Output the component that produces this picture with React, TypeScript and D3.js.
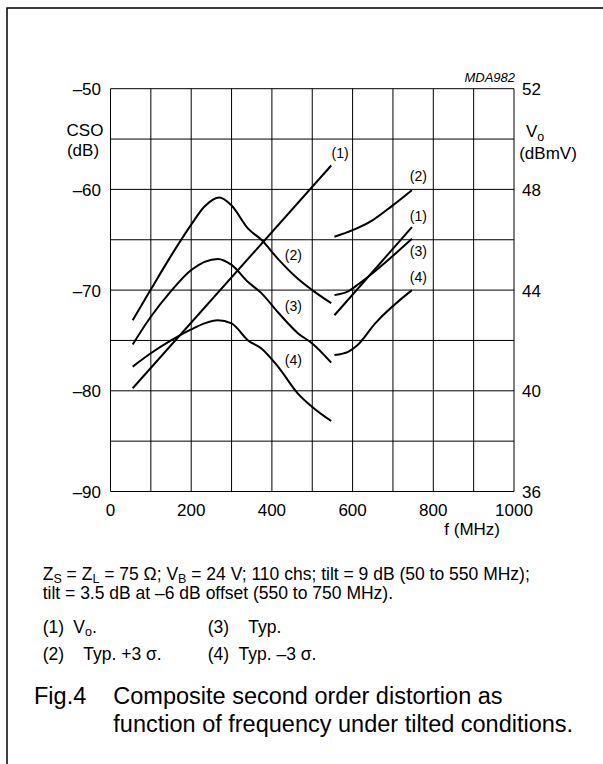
import React from "react";
import * as d3 from "d3";

// frequency axis (MHz) and the two y axes
const freqTicks = [0, 200, 400, 600, 800, 1000];
const csoTicks = [-50, -60, -70, -80, -90];
const voTicks = [52, 48, 44, 40, 36];

// (1) Vo, dBmV (right axis), two tilt segments
const voLow = [[55, 40.1], [547, 48.95]];
const voHigh = [[555, 43.0], [747, 46.5]];

// (2) Typ. +3 sigma, CSO dB
const typPlusLow = [
  [55, -73.0], [99, -70.0], [150, -66.6], [200, -63.5], [233, -61.7], [270, -60.8],
  [300, -61.6], [341, -63.9], [374, -65.0], [415, -66.9], [465, -68.9], [500, -70.0], [547, -71.3],
];
const typPlusHigh = [[555, -64.7], [600, -64.05], [648, -63.1], [697, -61.66], [747, -60.07]];

// (3) Typ.
const typLow = [
  [55, -75.4], [99, -72.7], [150, -70.1], [200, -68.0], [266, -66.9],
  [300, -67.5], [341, -69.2], [374, -70.3], [415, -72.2], [465, -74.3], [500, -75.3], [547, -77.2],
];
const typHigh = [[555, -70.5], [590, -70.1], [615, -69.4], [747, -64.9]];

// (4) Typ. -3 sigma
const typMinusLow = [
  [55, -77.6], [99, -76.3], [150, -75.0], [200, -73.9], [233, -73.3], [266, -73.0],
  [300, -73.3], [341, -75.0], [374, -75.8], [415, -77.6], [465, -80.3], [500, -81.6], [547, -83.0],
];
const typMinusHigh = [[555, -76.45], [590, -76.1], [611, -75.5], [656, -73.3], [747, -70.0]];

// curve tags, placed in chart units (MHz, dB)
const tags = [
  { t: "(1)", f: 569, v: -56.4 },
  { t: "(2)", f: 453, v: -66.5 },
  { t: "(3)", f: 453, v: -71.6 },
  { t: "(4)", f: 453, v: -76.9 },
  { t: "(2)", f: 763, v: -58.7 },
  { t: "(1)", f: 763, v: -62.6 },
  { t: "(3)", f: 763, v: -66.1 },
  { t: "(4)", f: 763, v: -68.7 },
];

const W = 603, H = 764;
const plot = { left: 110.5, right: 514, top: 88.7, bottom: 491.5 };
const font = "'Liberation Sans', Arial, sans-serif";

export default function App() {
  const x = d3.scaleLinear().domain([0, 1000]).range([plot.left, plot.right]);
  const y = d3.scaleLinear().domain([-90, -50]).range([plot.bottom, plot.top]);
  const yR = d3.scaleLinear().domain([36, 52]).range([plot.bottom, plot.top]);

  const lineL = d3.line<number[]>().x(d => x(d[0])).y(d => y(d[1])).curve(d3.curveMonotoneX);
  const lineR = d3.line<number[]>().x(d => x(d[0])).y(d => yR(d[1])).curve(d3.curveMonotoneX);

  const gridX = d3.range(0, 1001, 100);
  const gridY = d3.range(-90, -49, 5);

  const csoCurves = [typPlusLow, typPlusHigh, typLow, typHigh, typMinusLow, typMinusHigh];
  const voCurves = [voLow, voHigh];

  const tick = 17;
  const note = 17.5;
  const sub = 12.5;

  return (
    <svg width={W} height={H} style={{ position: "absolute", left: 0, top: 0, background: "#fff" }} fontFamily={font}>
      {/* frame */}
      <path d={`M7,${H} V8 H${W}`} fill="none" stroke="#000" strokeWidth={1.5} />

      {/* grid */}
      {gridX.map(v => (
        <line key={"gx" + v} x1={x(v)} x2={x(v)} y1={plot.top} y2={plot.bottom} stroke="#000" strokeWidth={1} />
      ))}
      {gridY.map(v => (
        <line key={"gy" + v} x1={plot.left} x2={plot.right} y1={y(v)} y2={y(v)} stroke="#000" strokeWidth={1} />
      ))}

      {/* ticks */}
      {csoTicks.map(v => (
        <text key={"l" + v} x={plot.left - 9.5} y={y(v) + 6.5} fontSize={tick} textAnchor="end">
          {v < 0 ? "\u2013" + Math.abs(v) : v}
        </text>
      ))}
      {voTicks.map(v => (
        <text key={"r" + v} x={plot.right + 8} y={yR(v) + 6.5} fontSize={tick}>
          {v}
        </text>
      ))}
      {freqTicks.map(v => (
        <text key={"b" + v} x={x(v)} y={plot.bottom + 24} fontSize={tick} textAnchor="middle">
          {v}
        </text>
      ))}

      {/* axis titles */}
      <text x={85} y={136} fontSize={tick} textAnchor="middle">CSO</text>
      <text x={83} y={156} fontSize={tick} textAnchor="middle">(dB)</text>
      <text x={526} y={137} fontSize={tick}>
        V<tspan fontSize={sub} dy={4}>o</tspan>
      </text>
      <text x={548} y={159} fontSize={tick} textAnchor="middle">(dBmV)</text>
      <text x={500} y={535} fontSize={tick} textAnchor="end">f (MHz)</text>
      <text x={515} y={82} fontSize={13} fontStyle="italic" textAnchor="end">MDA982</text>

      {/* curves */}
      {csoCurves.map((c, i) => (
        <path key={"c" + i} d={lineL(c) || ""} fill="none" stroke="#000" strokeWidth={2} />
      ))}
      {voCurves.map((c, i) => (
        <path key={"v" + i} d={lineR(c) || ""} fill="none" stroke="#000" strokeWidth={2} />
      ))}
      {tags.map((t, i) => (
        <text key={"t" + i} x={x(t.f)} y={y(t.v) + 5} fontSize={14} textAnchor="middle">{t.t}</text>
      ))}

      {/* notes */}
      <text x={42.7} y={580} fontSize={note}>
        Z<tspan fontSize={sub} dy={3}>S</tspan>
        <tspan dy={-3}> = Z</tspan>
        <tspan fontSize={sub} dy={3}>L</tspan>
        <tspan dy={-3}> = 75 Ω; V</tspan>
        <tspan fontSize={sub} dy={3}>B</tspan>
        <tspan dy={-3}> = 24 V; 110 chs; tilt = 9 dB (50 to 550 MHz);</tspan>
      </text>
      <text x={42.7} y={599} fontSize={note}>tilt = 3.5 dB at –6 dB offset (550 to 750 MHz).</text>

      <text x={42.7} y={633} fontSize={note}>(1)</text>
      <text x={73.3} y={633} fontSize={note}>
        V<tspan fontSize={sub} dy={3}>o</tspan><tspan dy={-3}>.</tspan>
      </text>
      <text x={207.7} y={633} fontSize={note}>(3)</text>
      <text x={248.3} y={633} fontSize={note}>Typ.</text>
      <text x={42.7} y={660} fontSize={note}>(2)</text>
      <text x={83.3} y={660} fontSize={note}>Typ. +3 σ.</text>
      <text x={207.7} y={660} fontSize={note}>(4)</text>
      <text x={238.5} y={660} fontSize={note}>Typ. –3 σ.</text>

      <text x={34} y={704} fontSize={23.5}>Fig.4</text>
      <text x={113.3} y={704} fontSize={23.5}>Composite second order distortion as</text>
      <text x={113.3} y={732} fontSize={23.5}>function of frequency under tilted conditions.</text>
    </svg>
  );
}
